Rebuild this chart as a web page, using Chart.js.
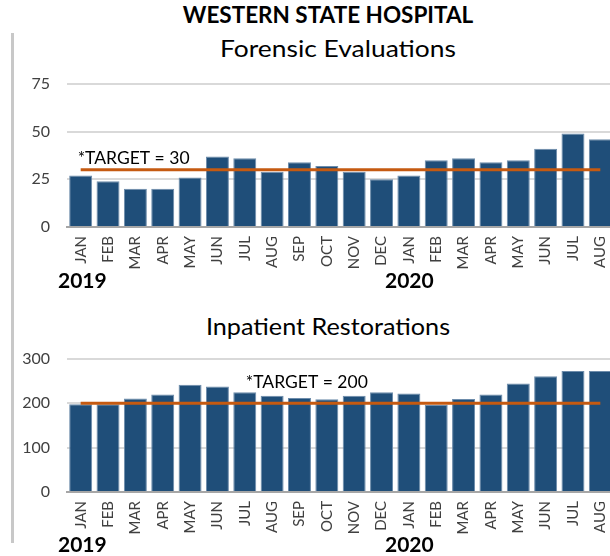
<!DOCTYPE html>
<html lang="en">
<head>
    <meta charset="UTF-8">
    <title>Western State Hospital</title>
    <script src="https://cdn.jsdelivr.net/npm/chart.js"></script>
    <style>
        html, body {
            margin: 0;
            padding: 0;
            width: 610px;
            height: 556px;
            overflow: hidden;
            background: #ffffff;
            font-family: Lato, 'Open Sans', sans-serif;
        }
        .txt {
            position: absolute;
            line-height: 1;
            white-space: nowrap;
            color: #000;
        }
        .center { transform: translateX(-50%); }
        .main { font-weight: 700; font-size: 22.5px; left: 328px; top: 4px; }
        .sub { font-size: 24px; transform: translateX(-50%) scaleX(1.1); }
        .year { font-weight: 700; font-size: 21px; }
        #leftRule {
            position: absolute;
            left: 11px;
            top: 33px;
            width: 3px;
            height: 510px;
            background: #c8c8c8;
        }
        .box { position: absolute; left: 0; }
        canvas { display: block; }
    </style>
</head>
<body>
    <div id="leftRule"></div>
    <div class="txt center main">WESTERN STATE HOSPITAL</div>
    <div class="txt sub" style="left:338px; top:36px;">Forensic Evaluations</div>
    <div class="txt sub" style="left:328px; top:314px; transform: translateX(-50%) scaleX(1.05);">Inpatient Restorations</div>

    <div class="box" style="top:74px;"><canvas id="forensicChart" width="616" height="208"></canvas></div>
    <div class="box" style="top:349px;"><canvas id="restorationChart" width="616" height="198"></canvas></div>

    <div class="txt year" style="left:58px; top:269px;">2019</div>
    <div class="txt year" style="left:385px; top:269px;">2020</div>
    <div class="txt year" style="left:58px; top:533px;">2019</div>
    <div class="txt year" style="left:385px; top:533px;">2020</div>

    <script>
        // months Jan 2019 - Aug 2020
        const months = ['JAN', 'FEB', 'MAR', 'APR', 'MAY', 'JUN', 'JUL', 'AUG', 'SEP', 'OCT', 'NOV', 'DEC',
                        'JAN', 'FEB', 'MAR', 'APR', 'MAY', 'JUN', 'JUL', 'AUG'];

        const forensicCounts = [27, 24, 20, 20, 26, 37, 36, 29, 34, 32, 29, 25, 27, 35, 36, 34, 35, 41, 49, 46];
        const forensicTarget = [30, 30, 30, 30, 30, 30, 30, 30, 30, 30, 30, 30, 30, 30, 30, 30, 30, 30, 30, 30];
        const forensicTicks = [0, 25, 50, 75];

        const restorationCounts = [198, 198, 211, 220, 242, 238, 225, 217, 212, 209, 217, 225, 222, 196, 210, 220, 245, 261, 273, 273];
        const restorationTarget = [200, 200, 200, 200, 200, 200, 200, 200, 200, 200, 200, 200, 200, 200, 200, 200, 200, 200, 200, 200];
        const restorationTicks = [0, 100, 200, 300];

        const barBlue = '#1f4e79';
        const targetOrange = '#c55a11';

        // writes the "*TARGET = n" note next to the target line
        const targetNote = {
            id: 'targetNote',
            afterDatasetsDraw(chart, args, opts) {
                const ctx = chart.ctx;
                const x = chart.scales.x.getPixelForValue(opts.index) + opts.dx;
                const y = chart.scales.y.getPixelForValue(opts.value) - opts.dy;
                ctx.save();
                ctx.font = '17.5px Lato';
                ctx.fillStyle = '#000';
                ctx.textAlign = 'left';
                ctx.textBaseline = 'alphabetic';
                ctx.fillText(opts.text, x, y);
                ctx.restore();
            }
        };

        function makeChart(id, counts, target, ticks, note) {
            const ctx = document.getElementById(id).getContext('2d');
            return new Chart(ctx, {
                type: 'bar',
                data: {
                    labels: months,
                    datasets: [
                        {
                            type: 'line',
                            data: target,
                            borderColor: targetOrange,
                            borderWidth: 3,
                            pointRadius: 0,
                            fill: false,
                            order: 0
                        },
                        {
                            data: counts,
                            backgroundColor: barBlue,
                            borderColor: '#6d8cab',
                            borderWidth: 1,
                            categoryPercentage: 1,
                            barPercentage: 0.84,
                            order: 1
                        }
                    ]
                },
                options: {
                    responsive: false,
                    animation: false,
                    layout: { padding: { top: 10, left: 0, right: 2, bottom: 0 } },
                    plugins: {
                        legend: { display: false },
                        tooltip: { enabled: false },
                        targetNote: note
                    },
                    scales: {
                        x: {
                            grid: { display: false, drawTicks: false },
                            border: { color: '#a6a6a6', width: 2 },
                            ticks: {
                                color: '#404040',
                                font: { family: 'Lato', size: 15 },
                                minRotation: 90,
                                maxRotation: 90,
                                autoSkip: false,
                                padding: 9
                            },
                            afterFit(scale) {
                                scale.height = 55;
                                scale.paddingLeft = 0;
                                scale.paddingRight = 0;
                            }
                        },
                        y: {
                            min: ticks[0],
                            max: ticks[ticks.length - 1],
                            afterBuildTicks(scale) {
                                scale.ticks = ticks.map(v => ({ value: v }));
                            },
                            grid: { color: '#d9d9d9', lineWidth: 2, drawTicks: false },
                            border: { display: false },
                            ticks: {
                                color: '#404040',
                                font: { family: 'Lato', size: 16 },
                                padding: 17
                            },
                            afterFit(scale) {
                                scale.width = 67;
                                scale.paddingTop = 0;
                                scale.paddingBottom = 0;
                            }
                        }
                    }
                },
                plugins: [targetNote]
            });
        }

        makeChart('forensicChart', forensicCounts, forensicTarget, forensicTicks,
            { text: '*TARGET = 30', index: 0, value: 30, dx: -3, dy: 6 });
        makeChart('restorationChart', restorationCounts, restorationTarget, restorationTicks,
            { text: '*TARGET = 200', index: 6, value: 200, dx: 1, dy: 15 });
    </script>
</body>
</html>
